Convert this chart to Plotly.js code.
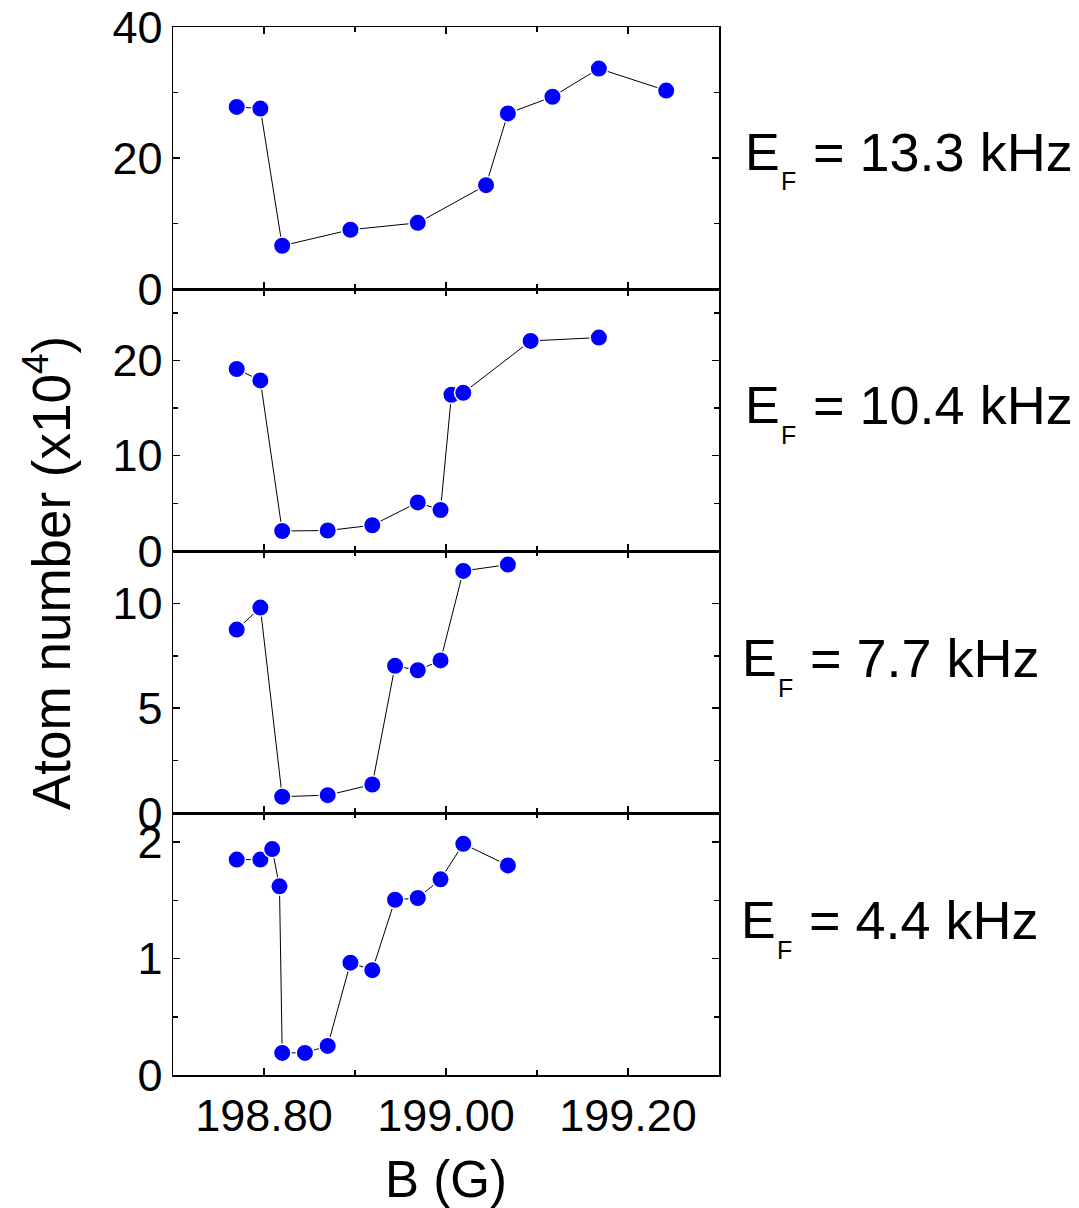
<!DOCTYPE html>
<html>
<head>
<meta charset="utf-8">
<script src="https://cdn.plot.ly/plotly-3.0.1.min.js"></script>
<style>html,body{margin:0;padding:0;background:#fff;}#chart{width:1079px;height:1208px;}</style>
</head>
<body>
<div id="chart"></div>
<script>
// Magnetic field B (G) and atom number (x10^4) for four Fermi energies
const labelsEF = ["13.3", "10.4", "7.7", "4.4"];

const b1 = [198.770, 198.796, 198.820, 198.895, 198.969, 199.044, 199.068, 199.117, 199.168, 199.242];
const n1 = [27.8, 27.55, 6.6, 9.05, 10.1, 15.85, 26.8, 29.35, 33.65, 30.3];

const b2 = [198.770, 198.796, 198.820, 198.870, 198.919, 198.969, 198.994, 199.006, 199.019, 199.093, 199.168];
const n2 = [19.1, 17.9, 2.1, 2.15, 2.7, 5.1, 4.3, 16.4, 16.6, 22.05, 22.4];

const b3 = [198.770, 198.796, 198.820, 198.870, 198.919, 198.944, 198.969, 198.994, 199.019, 199.068];
const n3 = [8.75, 9.8, 0.78, 0.85, 1.36, 7.02, 6.81, 7.28, 11.55, 11.85];

const b4 = [198.770, 198.796, 198.809, 198.817, 198.820, 198.845, 198.870, 198.895, 198.919, 198.944, 198.969, 198.994, 199.019, 199.068];
const n4 = [1.85, 1.85, 1.94, 1.62, 0.19, 0.19, 0.25, 0.965, 0.90, 1.505, 1.52, 1.68, 1.985, 1.80];

const xTickVals = [198.80, 199.00, 199.20];
const xTickText = ["198.80", "199.00", "199.20"];

const FONT = "Liberation Sans, Arial, Helvetica, sans-serif";
const W = 1079, H = 1208, ML = 173, MR = 360, MT = 27, MB = 133;
const PW = W - ML - MR, PH = H - MT - MB;
const px2x = p => (p - ML) / PW;
const px2y = p => (H - MB - p) / PH;

const series = [[b1, n1], [b2, n2], [b3, n3], [b4, n4]];
const traces = series.map((s, i) => ({
  x: s[0], y: s[1],
  xaxis: i === 0 ? 'x' : 'x' + (i + 1),
  yaxis: i === 0 ? 'y' : 'y' + (i + 1),
  type: 'scatter', mode: 'lines+markers',
  line: {color: '#000000', width: 1},
  marker: {color: '#0000FF', size: 17.5, line: {color: '#FFFFFF', width: 1.5}},
  showlegend: false, cliponaxis: false
}));

const domains = [[0.75, 1], [0.5, 0.75], [0.25, 0.5], [0, 0.25]];
const yRanges = [[0, 40], [0, 27.5], [0, 12.5], [0, 2.25]];
const yDt = [20, 10, 5, 1];

const layout = {
  width: W, height: H,
  margin: {l: ML, r: MR, t: MT, b: MB, pad: 0},
  paper_bgcolor: '#fff', plot_bgcolor: '#fff',
  font: {family: FONT, size: 45, color: '#000'},
  showlegend: false,
  annotations: []
};

for (let i = 0; i < 4; i++) {
  const xa = i === 0 ? 'xaxis' : 'xaxis' + (i + 1);
  const ya = i === 0 ? 'yaxis' : 'yaxis' + (i + 1);
  layout[xa] = {
    domain: [0, 1], anchor: i === 0 ? 'y' : 'y' + (i + 1),
    range: [198.70, 199.30], showgrid: false, zeroline: false,
    showline: true, linecolor: '#000', linewidth: 1.5, mirror: 'ticks',
    ticks: 'inside', ticklen: 7, tickwidth: 1.5, tickcolor: '#000',
    tickmode: 'array', tickvals: xTickVals, ticktext: xTickText,
    showticklabels: i === 3,
    tickfont: {family: FONT, size: 45, color: '#000'},
    minor: {dtick: 0.1, tick0: 198.7, ticks: 'inside', ticklen: 5, tickwidth: 1.5, tickcolor: '#000', showgrid: false},
    fixedrange: true
  };
  if (i > 0) layout[xa].matches = 'x';
  layout[ya] = {
    domain: domains[i], anchor: i === 0 ? 'x' : 'x' + (i + 1),
    range: yRanges[i], showgrid: false, zeroline: false,
    showline: true, linecolor: '#000', linewidth: 1.5, mirror: 'ticks',
    ticks: 'inside', ticklen: 7, tickwidth: 1.5, tickcolor: '#000',
    tick0: 0, dtick: yDt[i],
    tickfont: {family: FONT, size: 45, color: '#000'},
    minor: {dtick: yDt[i] / 2, ticks: 'inside', ticklen: 5, tickwidth: 1.5, tickcolor: '#000', showgrid: false},
    fixedrange: true
  };
}
layout.xaxis4.title = {text: 'B (G)', font: {family: FONT, size: 51, color: '#000'}, standoff: 31};

// E_F labels on the right of each panel
const eCenters = [151.5, 405, 658, 920];
const eLeft = [743, 743, 740, 739];
const fLeft = [779, 779, 776, 775];
const eqLeft = [811, 811, 808, 807];
for (let i = 0; i < 4; i++) {
  layout.annotations.push({
    xref: 'paper', yref: 'paper', x: px2x(eLeft[i]), y: px2y(eCenters[i]),
    xanchor: 'left', yanchor: 'middle', showarrow: false,
    text: 'E', font: {family: FONT, size: 52, color: '#000'}
  });
  layout.annotations.push({
    xref: 'paper', yref: 'paper', x: px2x(fLeft[i]), y: px2y(eCenters[i] + 30),
    xanchor: 'left', yanchor: 'middle', showarrow: false,
    text: 'F', font: {family: FONT, size: 25, color: '#000'}
  });
  layout.annotations.push({
    xref: 'paper', yref: 'paper', x: px2x(eqLeft[i]), y: px2y(eCenters[i]),
    xanchor: 'left', yanchor: 'middle', showarrow: false,
    text: '= ' + labelsEF[i] + ' kHz', font: {family: FONT, size: 54, color: '#000'}
  });
}
// Y axis title
layout.annotations.push({
  xref: 'paper', yref: 'paper', x: px2x(47), y: px2y(573),
  xanchor: 'center', yanchor: 'middle', showarrow: false, textangle: -90,
  text: 'Atom number (x10<sup>4</sup>)', font: {family: FONT, size: 53, color: '#000'}
});

Plotly.newPlot('chart', traces, layout, {displayModeBar: false, staticPlot: true});
</script>
</body>
</html>
